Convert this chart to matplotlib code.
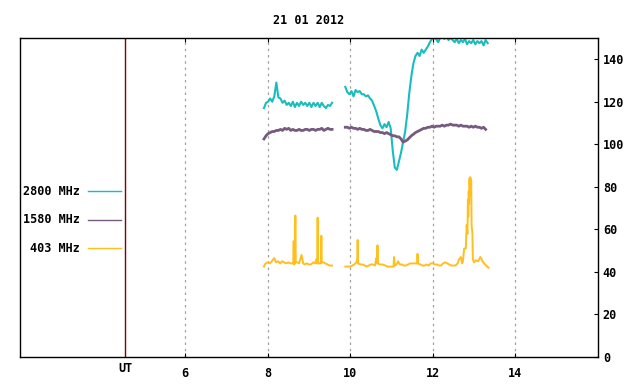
import matplotlib
matplotlib.use("Agg")
import matplotlib.pyplot as plt
import numpy as np

# Séries (heures UT, pas de 0.05 h)
start_a, start_b, step = 7.91, 9.88, 0.05

mhz2800_a = [117, 119.5, 120, 121.5, 120, 122.5, 129, 122, 121.5, 119.5, 120.5, 118.5,
             119.5, 118, 120, 117.5, 119.5, 118, 120, 118.5, 119.5, 118, 119.5, 117.5,
             119.5, 118, 119.5, 117.5, 119.5, 118, 117, 118.5, 118, 119.5]
mhz2800_b = [127, 124.5, 123.5, 125, 122.5, 125.5, 124.5, 125, 123.5, 123.5, 122.5, 123,
             121.5, 120.5, 118, 115.5, 112, 109, 107.5, 109.5, 108, 110.5, 107.5, 97, 89,
             88, 92, 96, 101, 106, 114, 124, 132, 138, 141.5, 143, 141.5, 144.5, 143,
             144.5, 146, 148, 149.5, 150, 149.5, 148, 150, 150.5, 149.5, 150.5, 149, 150,
             149, 148, 149.5, 147.5, 149, 148, 149.5, 147, 148.5, 147.5, 149, 147, 148.5,
             147.5, 148.5, 146.5, 149, 147.5]

mhz1580_a = [102.5, 104, 105, 105.5, 106, 106, 106.5, 106.5, 107, 106.5, 107.5, 107,
             107.5, 106.5, 107, 106.5, 106.5, 107, 106.5, 106.5, 107, 107, 106.5, 107,
             107, 106.5, 107, 107, 107.5, 106.5, 107, 107.5, 107, 107]
mhz1580_b = [108, 108, 107.5, 108, 107.5, 107.5, 107, 107.5, 107, 107, 106.5, 106.5,
             107, 106.5, 106, 106, 106, 105.5, 105.5, 105, 105.5, 105, 104.5, 104, 104,
             103.5, 103.5, 102.5, 101, 101.5, 102, 103, 104, 104.7, 105.5, 106, 106.5,
             107, 107.5, 107.5, 108, 108, 108.5, 108, 108.5, 108.5, 108.5, 109, 108.5,
             109, 109, 109.5, 109, 109, 109, 108.5, 109, 108.5, 108.5, 108.5, 108, 108.5,
             108, 108.5, 108, 108, 107.5, 108, 107]

t403_a = [7.91, 7.95, 8.00, 8.05, 8.10, 8.16, 8.20, 8.25, 8.30, 8.35, 8.40, 8.45, 8.50,
          8.55, 8.60, 8.62, 8.63, 8.64, 8.66, 8.67, 8.68, 8.72, 8.76, 8.82, 8.86, 8.90,
          8.95, 9.00, 9.05, 9.10, 9.15, 9.18, 9.20, 9.21, 9.22, 9.25, 9.29, 9.30, 9.31,
          9.35, 9.40, 9.45, 9.50, 9.56]
mhz403_a = [42.5, 44, 44.5, 44, 45, 46.5, 44.5, 45, 44, 45, 44.5, 44, 44.5, 44, 44, 44,
            54.5, 43.5, 44, 66.5, 44.5, 44.5, 44, 48, 44, 43.5, 44, 43.5, 43.5, 44.5, 44,
            46, 44, 65.5, 44, 44, 44, 57, 44.5, 44.5, 44, 43.5, 43, 43]
t403_b = [9.88, 9.95, 10.00, 10.05, 10.10, 10.15, 10.17, 10.18, 10.19, 10.25, 10.30,
          10.35, 10.40, 10.45, 10.50, 10.55, 10.60, 10.63, 10.65, 10.66, 10.67, 10.72,
          10.78, 10.85, 10.90, 10.95, 11.00, 11.05, 11.06, 11.08, 11.12, 11.16, 11.20,
          11.25, 11.30, 11.35, 11.40, 11.45, 11.50, 11.55, 11.60, 11.62, 11.63, 11.64,
          11.70, 11.75, 11.80, 11.85, 11.90, 11.95, 12.00, 12.05, 12.10, 12.15, 12.20,
          12.25, 12.30, 12.35, 12.40, 12.45, 12.50, 12.55, 12.60, 12.64, 12.68, 12.71,
          12.73, 12.76, 12.80, 12.82, 12.84, 12.85, 12.86, 12.87, 12.88, 12.89, 12.90,
          12.91, 12.92, 12.93, 12.94, 12.95, 12.96, 12.97, 13.00, 13.05, 13.10, 13.15,
          13.18, 13.22, 13.27, 13.32, 13.35]
mhz403_b = [42.5, 42.5, 42.5, 43, 43.5, 44.5, 46, 55, 44, 43.5, 43.5, 43, 42.5, 43, 43.5,
            43.5, 43, 46.5, 44, 52.5, 44, 43.5, 43.5, 43, 42.5, 42.5, 42.5, 42.5, 47, 43,
            43.5, 45, 43.5, 43.5, 43, 43, 43.5, 44, 44, 44, 44, 44, 48.5, 44, 43.5, 43, 43,
            43.5, 43, 44, 44, 43.5, 43.5, 43, 43, 44, 44.5, 44, 43.5, 43, 43, 43, 44, 46,
            47, 44, 45, 51, 51, 62, 58, 74, 66, 78, 72, 84, 76, 84.5, 80, 83, 62, 60, 58,
            46, 44.5, 45.5, 45, 47, 46, 44.5, 43.5, 42.5, 42]

labels = ["2800 MHz", "1580 MHz", "403 MHz"]
colors = ["#18bdbd", "#765a80", "#ffbf1f"]
xticks = [6, 8, 10, 12, 14]
yticks = [0, 20, 40, 60, 80, 100, 120, 140]

font = dict(family="DejaVu Sans Mono", weight="bold", size=8.5)

fig = plt.figure(figsize=(6.4, 3.84), dpi=100)
ax = fig.add_axes([0.03125, 0.0703, 0.903, 0.831])


def times(start, vals):
    return start + step * np.arange(len(vals))


ax.plot(times(start_a, mhz2800_a), mhz2800_a, color=colors[0], lw=1.5)
ax.plot(times(start_b, mhz2800_b), mhz2800_b, color=colors[0], lw=1.5)
ax.plot(times(start_a, mhz1580_a), mhz1580_a, color=colors[1], lw=2.0)
ax.plot(times(start_b, mhz1580_b), mhz1580_b, color=colors[1], lw=2.0)
ax.plot(t403_a, mhz403_a, color=colors[2], lw=1.4)
ax.plot(t403_b, mhz403_b, color=colors[2], lw=1.4)

# ligne UT
ax.axvline(4.55, color="#800000", lw=1.0)
ax.text(4.55, -0.035, "UT", transform=ax.get_xaxis_transform(), ha="center",
        va="center", **font)

ax.set_xlim(2, 16)
ax.set_ylim(0, 150)
ax.set_xticks(xticks)
ax.set_yticks(yticks)
ax.grid(axis="x", color="#a0a0a0", lw=0.9, ls=(0, (2, 3)))
ax.tick_params(axis="x", direction="in", top=True, length=3, pad=7, width=0.8)
ax.tick_params(axis="y", direction="in", left=False, right=True, labelleft=False,
               labelright=True, length=3, pad=3.5, width=0.8)
for lab in ax.get_xticklabels() + ax.get_yticklabels():
    lab.set_fontfamily(font["family"])
    lab.set_fontweight("bold")
    lab.set_fontsize(font["size"])
for s in ax.spines.values():
    s.set_linewidth(1.0)

# légende manuelle
for i, (lab, c) in enumerate(zip(labels, colors)):
    y = 0.5194 - i * 0.0893
    ax.plot([0.1176, 0.1747], [y, y], color=c, lw=1.0, transform=ax.transAxes)
    ax.text(0.1038, y, lab, transform=ax.transAxes, ha="right", va="center", **font)

ax.set_title("21 01 2012", pad=10, **font)

fig.savefig("out.png", dpi=100)
